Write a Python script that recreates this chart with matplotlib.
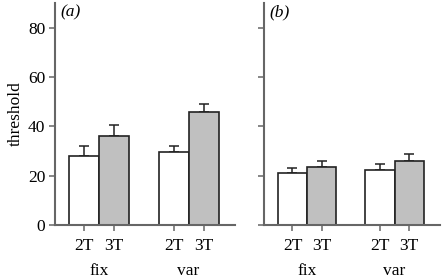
import numpy as np
import matplotlib.pyplot as plt

# data
conds = ['2T', '3T', '2T', '3T']
groups = ['fix', 'var']
thr_a = [28.1, 36.1, 29.5, 45.9]
err_a = [4.1, 4.4, 2.7, 3.0]
thr_b = [21.1, 23.5, 22.3, 25.9]
err_b = [2.1, 2.3, 2.3, 2.7]
panels = ['(a)', '(b)']

plt.rcParams['font.family'] = 'Liberation Serif'
plt.rcParams['font.size'] = 12.5

fig = plt.figure(figsize=(4.42, 2.8), dpi=100)
ax1 = fig.add_axes([55/442, 55/280, 180/442, 222/280])
ax2 = fig.add_axes([264/442, 55/280, 176/442, 222/280])

x = np.array([0.97, 1.97, 3.95, 4.95])
cols = ['white', '#c0c0c0', 'white', '#c0c0c0']
spine_col = '#666666'

for ax, vals, errs, lab in [(ax1, thr_a, err_a, panels[0]), (ax2, thr_b, err_b, panels[1])]:
    ax.bar(x, vals, width=1.0, color=cols, edgecolor='#222222', linewidth=1.2, zorder=2)
    ax.errorbar(x, vals, yerr=[np.zeros(4), errs], fmt='none', ecolor='#222222',
                elinewidth=1.1, capsize=3.5, capthick=1.1, zorder=1)
    ax.set_xlim(0, 6)
    ax.set_ylim(0, 90)
    ax.set_yticks([0, 20, 40, 60, 80])
    ax.set_xticks(x)
    ax.set_xticklabels(conds)
    for s in ['top', 'right']:
        ax.spines[s].set_visible(False)
    for s in ['left', 'bottom']:
        ax.spines[s].set_color(spine_col)
        ax.spines[s].set_linewidth(1.5)
    ax.tick_params(direction='out', length=4, width=1.1, color=spine_col, pad=3)
    ax.tick_params(axis='x', pad=5)
    ax.text(0.03, 0.995, lab, style='italic', transform=ax.transAxes, va='top', ha='left')
    ax.text((x[0] + x[1]) / 2, -0.205, groups[0], transform=ax.get_xaxis_transform(), ha='center', va='center')
    ax.text((x[2] + x[3]) / 2, -0.205, groups[1], transform=ax.get_xaxis_transform(), ha='center', va='center')

ax1.set_ylabel('threshold', labelpad=3)
ax2.set_yticklabels([])

fig.savefig('out.png', dpi=100)
